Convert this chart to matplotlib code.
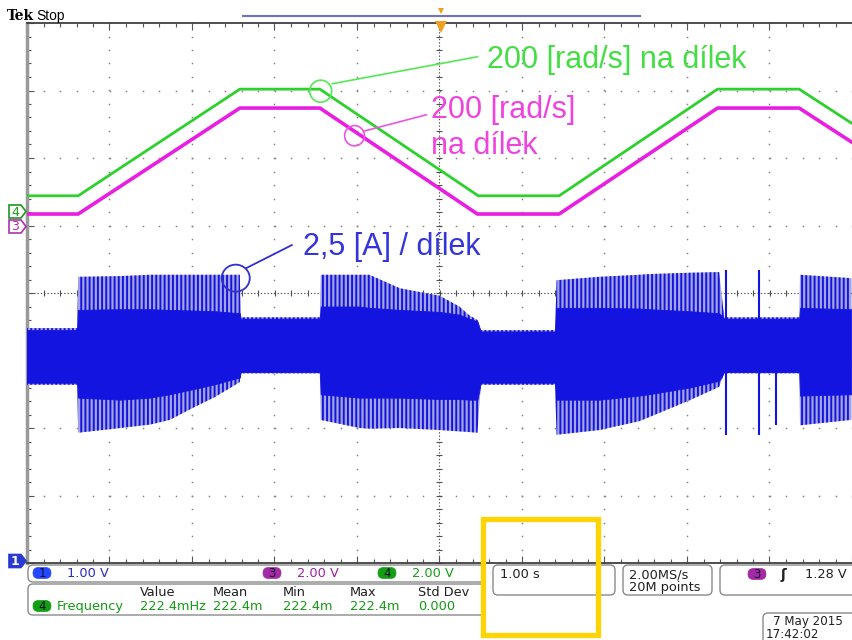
import matplotlib.pyplot as plt
import numpy as np
from matplotlib.patches import Ellipse, FancyBboxPatch, Polygon, Rectangle

plt.rcParams['font.family'] = ['DejaVu Sans']
plt.rcParams['hatch.linewidth'] = 1.4

# time in seconds (1.00 s/div, trigger at 0), traces in screen divisions
speed4_t = [-5.00, -4.38, -2.42, -1.45, 0.47, 1.45, 3.37, 4.36, 4.99]
speed4 = [1.44, 1.44, 3.02, 3.02, 1.44, 1.44, 3.02, 3.02, 2.52]
speed3_t = [-5.00, -4.38, -2.42, -1.45, 0.46, 1.45, 3.37, 4.36, 4.99]
speed3 = [1.17, 1.17, 2.74, 2.74, 1.17, 1.17, 2.74, 2.74, 2.24]

# current (ch1) - outer spike envelope and dense core
cur_t = [-5.00, -4.39, -4.38, -3.87, -3.51, -3.27, -2.97, -2.72, -2.42, -2.41,
         -1.45, -1.44, -0.97, -0.85, -0.48, 0.00, 0.24, 0.36, 0.46, 0.50,
         1.40, 1.42, 1.94, 2.42, 2.54, 3.03, 3.39, 3.45, 4.36, 4.37, 4.99]
cur_hi = [-0.52, -0.52, 0.24, 0.25, 0.27, 0.27, 0.27, 0.27, 0.27, -0.36,
          -0.36, 0.27, 0.27, 0.27, 0.07, -0.04, -0.20, -0.33, -0.40, -0.55,
          -0.55, 0.19, 0.24, 0.27, 0.28, 0.30, 0.31, -0.36, -0.36, 0.27, 0.22]
cur_lo = [-1.36, -1.36, -2.07, -2.00, -1.95, -1.88, -1.69, -1.54, -1.32, -1.19,
          -1.19, -1.88, -2.00, -2.01, -2.00, -2.03, -2.05, -2.06, -2.07, -1.36,
          -1.36, -2.10, -2.03, -1.90, -1.84, -1.59, -1.39, -1.19, -1.19, -1.96, -1.88]
core_hi = [-0.55, -0.55, -0.25, -0.24, -0.24, -0.25, -0.26, -0.27, -0.30, -0.38,
           -0.38, -0.20, -0.20, -0.22, -0.25, -0.28, -0.32, -0.38, -0.42, -0.57,
           -0.57, -0.22, -0.22, -0.23, -0.24, -0.27, -0.30, -0.38, -0.38, -0.22, -0.24]
core_lo = [-1.33, -1.33, -1.55, -1.58, -1.55, -1.50, -1.42, -1.35, -1.25, -1.17,
           -1.17, -1.50, -1.55, -1.55, -1.55, -1.57, -1.57, -1.58, -1.58, -1.33,
           -1.33, -1.58, -1.58, -1.52, -1.50, -1.40, -1.30, -1.17, -1.17, -1.52, -1.50]
spike_t = [3.47, 3.87, 4.08]
spike_hi = [0.34, 0.34, -0.84]
spike_lo = [-2.10, -2.10, -1.96]

GREEN = '#2ed02e'
MAGENTA = '#e81ee0'
BLUE = '#1414e0'

fig = plt.figure(figsize=(8.52, 6.4), dpi=100)
ax = fig.add_axes([27 / 852, 1 - 563 / 640, 825 / 852, 540 / 640])
ax.set_xlim(-5, 4.988)
ax.set_ylim(-4, 4)

# graticule
gc = '#858585'
mx = np.arange(-5, 5.01, 0.2)
my = np.arange(-4, 4.01, 0.2)
for k in range(-4, 5):
    if k != 0:
        ax.plot(np.full(my.size, k), my, ls='none', marker='s', ms=1.1, mew=0, color=gc)
for k in range(-3, 4):
    if k != 0:
        ax.plot(mx, np.full(mx.size, k), ls='none', marker='s', ms=1.1, mew=0, color=gc)
ax.axhline(0, color='#505050', lw=0.8, ls=(0, (1.2, 1.8)))
ax.axvline(0, color='#505050', lw=0.8, ls=(0, (1.2, 1.8)))
ax.plot(mx, np.zeros(mx.size), ls='none', marker='|', ms=5, mew=0.8, color='#505050')
ax.plot(np.zeros(my.size), my, ls='none', marker='_', ms=5, mew=0.8, color='#505050')

ax.set_xticks(range(-5, 6))
ax.set_xticks(mx, minor=True)
ax.set_yticks(range(-4, 5))
ax.set_yticks(my, minor=True)
ax.tick_params(which='both', direction='in', top=True, bottom=True, left=True,
               labelbottom=False, labelleft=False, color='#555555', width=0.8)
ax.tick_params(which='major', length=5)
ax.tick_params(which='minor', length=3)
ax.spines['right'].set_visible(False)
ax.spines['top'].set_color('#404040')
ax.spines['bottom'].set_color('#404040')
ax.spines['top'].set_linewidth(1.3)
ax.spines['bottom'].set_linewidth(1.3)
ax.spines['left'].set_color('#9a9a9a')
ax.spines['left'].set_linewidth(2.5)

# current trace
ax.fill_between(cur_t, cur_lo, cur_hi, facecolor='#a4a4e0', edgecolor=BLUE,
                hatch='||||', linewidth=0, zorder=3)
ax.fill_between(cur_t, core_lo, core_hi, color=BLUE, linewidth=0.6, zorder=4)
ax.vlines(spike_t, spike_lo, spike_hi, color=BLUE, lw=1.5, zorder=4)

# speed traces
ax.plot(speed3_t, speed3, color=MAGENTA, lw=2.6, zorder=5)
ax.plot(speed4_t, speed4, color=GREEN, lw=2.0, zorder=6)

# annotations
ax.text(0.57, 3.45, '200 [rad/s] na dílek', color='#44dd44', fontsize=22,
        family='Liberation Sans', ha='left', va='center', zorder=8)
ax.text(-0.10, 2.44, '200 [rad/s]\nna dílek', color='#ee44dd', fontsize=22,
        family='Liberation Sans', ha='left', va='center', linespacing=1.25, zorder=8)
ax.text(-1.66, 0.68, '2,5 [A] / dílek', color='#3434dd', fontsize=22,
        family='Liberation Sans', ha='left', va='center', zorder=8)
ax.add_patch(Ellipse((-1.44, 2.99), 0.266, 0.326, fill=False, ec='#55e855', lw=1.2, zorder=8))
ax.plot([-1.30, 0.46], [3.10, 3.50], color='#55e855', lw=1.2, zorder=8)
ax.add_patch(Ellipse((-1.03, 2.33), 0.24, 0.30, fill=False, ec='#ee55dd', lw=1.2, zorder=8))
ax.plot([-0.91, -0.16], [2.40, 2.64], color='#ee55dd', lw=1.2, zorder=8)
ax.add_patch(Ellipse((-2.47, 0.22), 0.34, 0.40, fill=False, ec='#3030d0', lw=1.3, zorder=8))
ax.plot([-2.34, -1.79], [0.37, 0.71], color='#3030d0', lw=1.3, zorder=8)

# scope frame, pixel coordinates
ov = fig.add_axes([0, 0, 1, 1], zorder=10)
ov.set_xlim(0, 852)
ov.set_ylim(640, 0)
ov.axis('off')

ov.text(7, 16, 'Tek', fontsize=10, fontweight='bold', family='DejaVu Serif', va='center')
ov.text(36, 16, 'Stop', fontsize=10, family='Liberation Sans', va='center')
ov.plot([243, 640], [16, 16], color='#7070c4', lw=1.5)
ov.plot([441], [11], marker='v', ms=4, color='#f0a020', mew=0)
ov.plot([441], [27], marker='v', ms=8, color='#f0a020', mew=0)


def marker(y, label, col, filled):
    pts = [(9, y - 6.5), (21, y - 6.5), (26, y), (21, y + 6.5), (9, y + 6.5)]
    ov.add_patch(Polygon(pts, closed=True, fc=col if filled else 'white', ec=col, lw=1.2))
    ov.text(15, y + 0.5, label, fontsize=9, color='white' if filled else col,
            ha='center', va='center', fontweight='bold' if filled else 'normal')


marker(211.5, '4', '#1a9a1a', False)
marker(226.5, '3', '#b030b0', False)
marker(561, '1', '#2a3ad0', True)


def box(x0, y0, x1, y1):
    ov.add_patch(FancyBboxPatch((x0, y0), x1 - x0, y1 - y0,
                                boxstyle='round,pad=0,rounding_size=5',
                                fc='white', ec='#8a8a8a', lw=1.0))


def pill(x, y, label, col):
    ov.add_patch(FancyBboxPatch((x - 9, y - 5.5), 18, 11,
                                boxstyle='round,pad=0,rounding_size=5.5',
                                fc=col, ec=col, lw=0.5))
    ov.text(x, y + 0.5, label, fontsize=8.5, color='#101030', ha='center', va='center')


fs = 9.3
box(28, 565, 485, 582)
pill(42, 573, '1', '#2348ff')
ov.text(67, 573.5, '1.00 V', fontsize=fs, color='#2a2ac8', va='center')
pill(272, 573, '3', '#a32aa3')
ov.text(297, 573.5, '2.00 V', fontsize=fs, color='#a020a0', va='center')
pill(387, 573, '4', '#12a012')
ov.text(412, 573.5, '2.00 V', fontsize=fs, color='#12a012', va='center')

box(28, 584, 485, 615)
for xh, lab in zip([140, 213, 283, 350, 418], ['Value', 'Mean', 'Min', 'Max', 'Std Dev']):
    ov.text(xh, 592, lab, fontsize=fs, color='#202020', va='center')
pill(42, 606, '4', '#12a012')
ov.text(57, 606.5, 'Frequency', fontsize=fs, color='#129a12', va='center')
for xv, lab in zip([140, 213, 283, 350, 418], ['222.4mHz', '222.4m', '222.4m', '222.4m', '0.000']):
    ov.text(xv, 606.5, lab, fontsize=fs, color='#129a12', va='center')

box(493, 565, 615, 595)
ov.text(500, 574.5, '1.00 s', fontsize=fs, color='#202020', va='center')
box(623, 565, 712, 595)
ov.text(629, 574.5, '2.00MS/s', fontsize=fs, color='#202020', va='center')
ov.text(629, 587.5, '20M points', fontsize=fs, color='#202020', va='center')
box(720, 565, 870, 595)
pill(757, 574, '3', '#a32aa3')
ov.text(781, 575, 'ʃ', fontsize=10, fontweight='bold', color='#202020', va='center')
ov.text(805, 574.5, '1.28 V', fontsize=fs, color='#202020', va='center')
box(763, 613, 870, 660)
ov.text(773, 622, '7 May 2015', fontsize=8.6, color='#202020', va='center')
ov.text(766, 634, '17:42:02', fontsize=8.6, color='#202020', va='center')

ov.add_patch(Rectangle((483, 519), 115, 116, fill=False, ec='#ffd400', lw=3.8))

fig.savefig('out.png', dpi=100)
